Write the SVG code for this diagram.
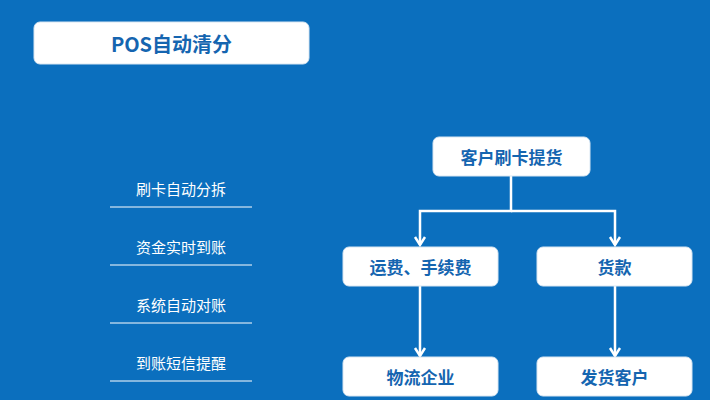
<svg xmlns="http://www.w3.org/2000/svg" width="710" height="400" viewBox="0 0 710 400">
<style>
.box{fill:#fff;stroke:#d8e6f2;stroke-width:1}
.bt{font-family:"Noto Sans CJK SC",sans-serif;font-weight:bold;font-size:17px;fill:#1565b0;text-anchor:middle;dominant-baseline:central}
.lt{font-family:"Noto Sans CJK SC",sans-serif;font-size:15px;fill:#fff;text-anchor:middle;dominant-baseline:central}
.ln{stroke:#fff;stroke-width:1}
.c{stroke:#fff;stroke-width:2.5;fill:none}
</style>
<defs><marker id="a" viewBox="0 0 10 10" refX="5" refY="8" markerWidth="5" markerHeight="5" orient="auto-start-reverse" markerUnits="userSpaceOnUse"><path d="M1,2 L5,8 L9,2" stroke="#fff" stroke-width="1.6" fill="none"/></marker></defs>
<rect width="710" height="400" fill="#0b6fbe"/>
<g id="title"><rect class="box" x="34" y="22" width="275" height="42" rx="6"/><text class="bt" x="171.5" y="43" style="font-size:20px">POS自动清分</text></g>
<g id="list">
<text class="lt" x="181" y="188">刷卡自动分拆</text><line class="ln" x1="110" y1="207" x2="252" y2="207"/>
<text class="lt" x="181" y="246">资金实时到账</text><line class="ln" x1="110" y1="265" x2="252" y2="265"/>
<text class="lt" x="181" y="304">系统自动对账</text><line class="ln" x1="110" y1="323" x2="252" y2="323"/>
<text class="lt" x="181" y="362">到账短信提醒</text><line class="ln" x1="110" y1="381" x2="252" y2="381"/>
</g>
<g id="connectors">
<path class="c" d="M511,176 V211 H420 V245"/>
<path class="c" d="M511,211 H615 V245"/>
<path d="M415,237 L420,245 L425,237 M610,237 L615,245 L620,237 M415,348 L420,356 L425,348 M610,348 L615,356 L620,348" class="c" stroke-width="2"/>
<path class="c" d="M420,286 V356"/>
<path class="c" d="M615,286 V356"/>
</g>
<g id="n1"><rect class="box" x="433" y="137" width="157" height="39" rx="6"/><text class="bt" x="511.5" y="156.5">客户刷卡提货</text></g>
<g id="n2"><rect class="box" x="343" y="247" width="155" height="39" rx="6"/><text class="bt" x="420.5" y="266.5">运费、手续费</text></g>
<g id="n3"><rect class="box" x="537" y="247" width="155" height="39" rx="6"/><text class="bt" x="614.5" y="266.5">货款</text></g>
<g id="n4"><rect class="box" x="343" y="357" width="155" height="39" rx="6"/><text class="bt" x="420.5" y="376.5">物流企业</text></g>
<g id="n5"><rect class="box" x="537" y="357" width="155" height="39" rx="6"/><text class="bt" x="614.5" y="376.5">发货客户</text></g>
</svg>
